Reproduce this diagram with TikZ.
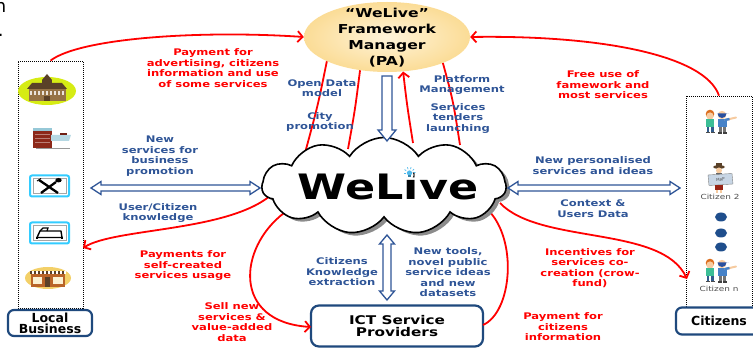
\documentclass[tikz,border=0pt]{standalone}
\usepackage{fontspec}
\setmainfont{DejaVu Sans}
\newfontfamily\widefont[FakeStretch=1.27]{DejaVu Sans}
\usetikzlibrary{shapes.geometric,shapes.symbols,shadows,arrows.meta,calc}
\definecolor{flowred}{RGB}{255,0,0}
\definecolor{labelblue}{RGB}{47,85,151}
\definecolor{frameblue}{RGB}{31,73,125}
\definecolor{arrowblue}{RGB}{47,85,151}
\definecolor{paleorange}{RGB}{251,220,150}
\definecolor{lightpeach}{RGB}{255,244,218}
\definecolor{iconcyan}{RGB}{51,204,255}
\definecolor{bulbblue}{RGB}{79,185,235}
\definecolor{hallgreen}{RGB}{214,236,20}
\definecolor{hallbrown}{RGB}{150,115,70}
\definecolor{roofbrown}{RGB}{90,65,40}
\definecolor{brickred}{RGB}{140,40,25}
\definecolor{glassblue}{RGB}{150,200,215}
\definecolor{shopyellow}{RGB}{243,208,104}
\definecolor{shopbrown}{RGB}{185,100,40}
\definecolor{skin}{RGB}{246,203,160}
\definecolor{dotblue}{RGB}{31,78,140}
\definecolor{shirtgreen}{RGB}{60,190,150}
\definecolor{shirtblue}{RGB}{70,130,200}
\definecolor{capblue}{RGB}{40,80,160}
\definecolor{hairorange}{RGB}{220,110,30}
\definecolor{mapgray}{RGB}{200,214,229}

\tikzset{
  kidpair/.pic={
    % left child
    \fill[hairorange] (-9,-7) circle (4.3);
    \fill[skin] (-9,-5) circle (3.6);
    \fill[shirtgreen] (-13,-1.5) rectangle (-5,6);
    \fill[shirtblue!70!black] (-12.5,6) rectangle (-9.7,11);
    \fill[shirtblue!70!black] (-8.3,6) rectangle (-5.5,11);
    \fill[black!70] (-13.5,11) rectangle (-9.5,12.5);
    \fill[black!70] (-8.5,11) rectangle (-4.5,12.5);
    % right child, pointing
    \fill[skin] (3,-6) circle (4.2);
    \fill[capblue] (-1.5,-7.5) arc[start angle=180,end angle=0,radius=4.5] -- (10,-7.5) -- cycle;
    \fill[shirtblue] (-1,-2) rectangle (7.5,6.5);
    \draw[skin, line width=2pt, line cap=round] (6.5,-1) -- (17,-3.5);
    \draw[shirtblue, line width=2.4pt] (6,-1) -- (10.5,-2);
    \fill[black!55] (-0.5,6.5) rectangle (2.6,11.5);
    \fill[black!55] (3.9,6.5) rectangle (7,11.5);
    \fill[black!75] (-1.5,11.5) rectangle (3,13);
    \fill[black!75] (3.5,11.5) rectangle (8,13);
  }
}

\begin{document}
\begin{tikzpicture}[x=1pt,y=-1pt,
  redlabel/.style={text=flowred, font=\widefont\bfseries\fontsize{9.1}{10.5}\selectfont, align=center, inner sep=0pt},
  bluelabel/.style={text=labelblue, font=\widefont\bfseries\fontsize{9.1}{10.5}\selectfont, align=center, inner sep=0pt},
  flow/.style={draw=flowred, line width=1.8pt},
  flowtip/.style={flow, -{Straight Barb[length=5pt,width=11pt]}},
  hollow/.style={draw=arrowblue, line width=1.3pt, fill=white, line join=miter},
  dotframe/.style={draw=black, line width=0.8pt, dash pattern=on 1pt off 1pt, inner sep=0pt},
  groupbox/.style={draw=frameblue, line width=2.2pt, rounded corners=6pt, fill=white,
    font=\bfseries\fontsize{12.5}{11}\selectfont, align=center, inner sep=0pt},
  iconbox/.style={draw=iconcyan, line width=2pt, rounded corners=2pt, fill=white, inner sep=0pt},
  tinytext/.style={text=black!70, font=\widefont\fontsize{7}{8}\selectfont, inner sep=0pt},
]
\useasboundingbox (0,0) rectangle (753,352);

% cut-off characters at the upper left edge
\node[font=\fontsize{18}{18}\selectfont, anchor=base east, inner sep=0pt] (fragn) at (6.5,13) {n};
\node[font=\fontsize{18}{18}\selectfont, anchor=base east, inner sep=0pt] (fragdot) at (3.8,36.5) {.};

% ---------------- group frames ----------------
\node[dotframe, minimum width=65pt, minimum height=247pt] (lb) at (50.5,184.5) {};
\node[dotframe, minimum width=66pt, minimum height=214pt] (cb) at (719,203) {};
\node[groupbox, minimum width=84pt, minimum height=26pt] (lbl) at (50,323) {Local\\Business};
\node[groupbox, minimum width=86pt, minimum height=27pt] (cbl) at (719,321) {Citizens};
\node[groupbox, minimum width=172pt, minimum height=41pt, rounded corners=8pt,
  font=\widefont\bfseries\fontsize{12}{12.5}\selectfont] (ict) at (397,326) {ICT Service\\Providers};

% ---------------- framework manager ----------------
\node[ellipse, minimum width=166pt, minimum height=70pt, inner sep=0pt,
  inner color=lightpeach, outer color=paleorange] (pa) at (387,37) {};
\node[font=\widefont\bfseries\fontsize{12.3}{16}\selectfont, align=center, inner sep=0pt]
  (patxt) at (387,38) {“WeLive”\\Framework\\Manager\\(PA)};

% ---------------- connection points on the cloud ----------------
\coordinate (wl1) at (305,153);
\coordinate (wl2) at (348,149);
\coordinate (wl3) at (413,143);
\coordinate (wl4) at (460,145);
\coordinate (wl5) at (270,196);
\coordinate (wl6) at (284,213);
\coordinate (wl7) at (488,210);
\coordinate (wl8) at (500,203);
\coordinate (lbin) at (83,248);
\coordinate (ictin) at (311,327);
\coordinate (ictout) at (483,325);
\coordinate (cbin) at (687,279);

% ---------------- red money / value flows ----------------
\draw[flowtip] (lb.north) .. controls (80,38) and (200,30) .. (pa.west);
\draw[flowtip] (cb.north) .. controls (705,55) and (600,35) .. (pa.east);
\draw[flow] (pa.202) .. controls (318,105) .. (wl1);
\draw[flow] (pa.231) .. controls (355,110) .. (wl2);
\draw[flowtip] (wl3) .. controls (407,105) .. (pa.295);
\draw[flow] (pa.335) .. controls (453,100) .. (wl4);
\draw[flowtip] (wl5) .. controls (225,232) and (115,228) .. (lbin);
\draw[flowtip] (wl6) .. controls (238,248) and (232,322) .. (ictin);
\draw[flow] (ictout) .. controls (512,312) and (518,240) .. (wl7);
\draw[flowtip] (wl8) .. controls (540,245) and (662,225) .. (cbin);

% ---------------- WeLive cloud ----------------
\node[cloud, cloud puffs=11, cloud puff arc=115, aspect=2.5, minimum width=244pt, minimum height=97pt,
  draw=black, line width=1.6pt, fill=white,
  drop shadow={shadow xshift=4pt, shadow yshift=-3pt, fill=black!45, opacity=1}] (wl) at (384,186) {};
\node[font=\widefont\bfseries\fontsize{35}{40}\selectfont, inner sep=0pt] (wltxt) at (388,186) {WeLive};
% light bulb over the i
\fill[white] (409.5,175) circle (4.2);
\fill[bulbblue] (409.5,173) circle (2.6);
\fill[bulbblue!70!black] (408,175.5) rectangle (411,177.5);
\foreach \a in {180,215,...,360}
  \draw[bulbblue, line width=0.7pt] ($(409.5,173)+(\a:4)$) -- ($(409.5,173)+(\a:6)$);

% ---------------- hollow blue arrows ----------------
\coordinate (la1) at (91,188);  \coordinate (la2) at (260,188);
\coordinate (ra1) at (508,188); \coordinate (ra2) at (680,188);
\coordinate (da1) at (387,76);  \coordinate (da2) at (387,141);
\coordinate (va1) at (387,235); \coordinate (va2) at (387,300);
\draw[hollow] (la1) -- ++(10,-6.5) -- ++(0,3.5) -- ($(la2)+(-10,-3)$) -- ++(0,-3.5) -- (la2)
  -- ++(-10,6.5) -- ++(0,-3.5) -- ($(la1)+(10,3)$) -- ++(0,3.5) -- cycle;
\draw[hollow] (ra1) -- ++(10,-6.5) -- ++(0,3.5) -- ($(ra2)+(-10,-3)$) -- ++(0,-3.5) -- (ra2)
  -- ++(-10,6.5) -- ++(0,-3.5) -- ($(ra1)+(10,3)$) -- ++(0,3.5) -- cycle;
\draw[hollow] ($(da1)+(-5,0)$) -- ($(da2)+(-5,-11)$) -- ++(-4,0) -- (da2) -- ++(9,-11)
  -- ++(-4,0) -- ($(da1)+(5,0)$) -- cycle;
\draw[hollow] (va1) -- ++(7.5,9) -- ++(-3.5,0) -- ($(va2)+(4,-9)$) -- ++(3.5,0) -- (va2)
  -- ++(-7.5,-9) -- ++(3.5,0) -- ($(va1)+(-4,9)$) -- ++(-3.5,0) -- cycle;

% ---------------- red labels ----------------
\node[redlabel] (r1) at (213,68) {Payment for\\advertising, citizens\\information and use\\of some services};
\node[redlabel] (r2) at (603,85) {Free use of\\famework and\\most services};
\node[redlabel] (r3) at (183,266) {Payments for\\self-created\\services usage};
\node[redlabel] (r4) at (232,322) {Sell new\\services \&\\value-added\\data};
\node[redlabel] (r5) at (590,268) {Incentives for\\services co-\\creation (crow-\\fund)};
\node[redlabel] (r6) at (563,327) {Payment for\\citizens\\information};

% ---------------- blue labels ----------------
\node[bluelabel] (b1) at (160,156) {New\\services for\\business\\promotion};
\node[bluelabel] (b2) at (158,213) {User/Citizen\\knowledge};
\node[bluelabel] (b3) at (322,88) {Open Data\\model};
\node[bluelabel] (b4) at (320,122) {City\\promotion};
\node[bluelabel] (b5) at (462,85) {Platform\\Management};
\node[bluelabel] (b6) at (458,118.5) {Services\\tenders\\launching};
\node[bluelabel] (b7) at (593,165.5) {New personalised\\services and ideas};
\node[bluelabel] (b8) at (593,208.5) {Context \&\\Users Data};
\node[bluelabel] (b9) at (342,272) {Citizens\\Knowledge\\extraction};
\node[bluelabel] (b10) at (448,272.5) {New tools,\\novel public\\service ideas\\and new\\datasets};

% ---------------- local business icons ----------------
% town hall
\fill[hallgreen] (47,91) ellipse [x radius=29, y radius=14];
\fill[hallbrown] (29,88) rectangle (66,101);
\fill[roofbrown] (27,89) -- (32,83) -- (62,83) -- (67,89) -- cycle;
\fill[roofbrown] (42,84) rectangle (52,80);
\fill[roofbrown] (42,80) -- (47,74) -- (52,80) -- cycle;
\foreach \wx in {31,35,39,43,47,51,55,59,63}
  \fill[white!80!hallbrown] (\wx-1,91) rectangle (\wx+1,95);
\fill[roofbrown] (44,96) rectangle (50,101);
% office block
\fill[brickred] (33,128) rectangle (52,148);
\fill[glassblue] (33,128) rectangle (52,131);
\foreach \wy in {134,138,142}
  \fill[brickred!60!white] (35,\wy) rectangle (50,\wy+1.5);
\fill[glassblue!70!white] (51,135) -- (71,135) -- (69,141) -- (51,141) -- cycle;
\fill[brickred!80!black] (60,133) rectangle (67,135);
\fill[black!40] (36,148) rectangle (70,149.5);
% restaurant
\node[iconbox, minimum width=39pt, minimum height=21pt] (fork) at (49.5,186) {};
\draw[black!35, line width=0.6pt] (33,178.5) rectangle (66,193.5);
\draw[line width=2.3pt] (39,180) -- (58,193);
\draw[line width=2.3pt] (41,193) -- (56,182);
\fill (58.5,180.2) ellipse [x radius=3.2, y radius=2.2];
\draw[line width=1pt] (37,181) -- (41,178.5);
% hotel
\node[iconbox, minimum width=39pt, minimum height=21pt] (bed) at (49.5,233) {};
\draw[black!35, line width=0.6pt] (33,225.5) rectangle (66,240.5);
\draw[line width=1.4pt, line join=round] (37,237.5) -- (40,231) -- (61,231) -- (62,237.5) -- cycle;
\draw[line width=1.2pt] (40,231) -- (43,228) -- (48,228) -- (47,231);
\draw[line width=1.2pt] (37,237.5) -- (37,239);
\draw[line width=1.2pt] (62,237.5) -- (62,239);
% shop
\fill[shopyellow] (48,278) ellipse [x radius=23, y radius=11];
\fill[shopbrown] (31,274) rectangle (65,287);
\fill[roofbrown] (30,271) rectangle (66,274.5);
\foreach \sx in {32,36,...,64}
  \fill[white] (\sx,271.5) rectangle (\sx+1.6,274);
\fill[white!70!shopyellow] (33,277) rectangle (42,284);
\fill[white!70!shopyellow] (53,277) rectangle (63,284);
\fill[roofbrown] (45,277) rectangle (50,287);

% ---------------- citizen icons ----------------
\pic at (719,121) {kidpair};
% citizen with a map
\fill[roofbrown] (719,167) ellipse [x radius=6, y radius=1.8];
\fill[roofbrown] (716,163.5) rectangle (722,167);
\fill[skin] (719,170.5) circle (3);
\fill[black!60] (716,173) rectangle (722,176);
\fill[mapgray] (708,175) -- (732,173.5) -- (733,184) -- (709,185.5) -- cycle;
\draw[black!50, line width=0.4pt] (708,175) -- (732,173.5) -- (733,184) -- (709,185.5) -- cycle;
\node[font=\fontsize{4}{4}\selectfont, text=black!70, inner sep=0pt, rotate=4] (maptxt) at (720.5,179.5) {MAP};
\fill[brickred!90!red] (715,185) rectangle (723,190);
\fill[skin] (716,190) rectangle (718,193);
\fill[skin] (720,190) rectangle (722,193);
\node[tinytext] (c2) at (720,196.5) {Citizen 2};
% ellipsis dots
\foreach \dy in {217,233,247}
  \fill[dotblue] (721,\dy) ellipse [x radius=6, y radius=4.5];
\pic at (719,270) {kidpair};
\node[tinytext] (cn) at (719,288.5) {Citizen n};

\end{tikzpicture}
\end{document}
